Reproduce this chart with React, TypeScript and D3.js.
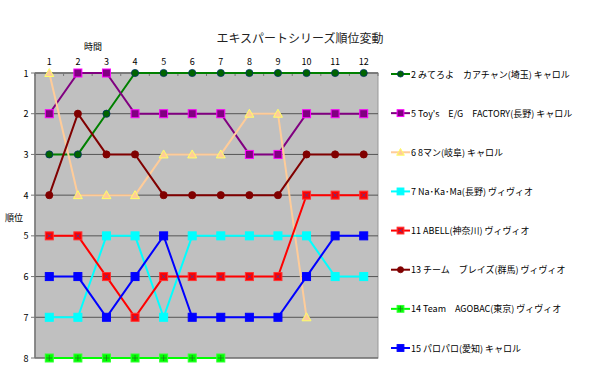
import React from "react";
import * as d3 from "d3";

const times = ["1","2","3","4","5","6","7","8","9","10","11","12"];
const ranks = [1,2,3,4,5,6,7,8];
const names = [
  "2 みてろよ　カアチャン(埼玉) キャロル",
  "5 Toy's　E/G　FACTORY(長野) キャロル",
  "6 8マン(岐阜) キャロル",
  "7 Na･Ka･Ma(長野) ヴィヴィオ",
  "11 ABELL(神奈川) ヴィヴィオ",
  "13 チーム　ブレイズ(群馬) ヴィヴィオ",
  "14 Team　AGOBAC(東京) ヴィヴィオ",
  "15 パロパロ(愛知) キャロル",
];
const s2 = [3,3,2,1,1,1,1,1,1,1,1,1];
const s5 = [2,1,1,2,2,2,2,3,3,2,2,2];
const s6 = [1,4,4,4,3,3,3,2,2,7,null,null];
const s7 = [7,7,5,5,7,5,5,5,5,5,6,6];
const s11 = [5,5,6,7,6,6,6,6,6,4,4,4];
const s13 = [4,2,3,3,4,4,4,4,4,3,3,3];
const s14 = [8,8,8,8,8,8,8,null,null,null,null,null];
const s15 = [6,6,7,6,5,7,7,7,7,6,5,5];
const seriesValues = [s2,s5,s6,s7,s11,s13,s14,s15];
const lineColors = ["#008000","#800080","#ffcc99","#00ffff","#ff0000","#800000","#00ff00","#0000ff"];
const markerFill = ["#006400","#800080","#ffcc99","#00ffff","#ff0000","#800000","#00ff00","#0000ff"];
const markerStroke = ["#003366","#ff00ff","#ffff66","#00ffff","#ff3333","#800000","#33ff33","#0000ff"];
const markerType = ["circle","square","triangle","square","squareX","circle","squarePlus","square"];

const FONT = "'MS PGothic','Noto Sans CJK JP',sans-serif";

function Marker({ type, x, y, fill, stroke, k = 1 }: any) {
  if (type === "circle") return <circle cx={x} cy={y} r={3.6 * k} fill={fill} stroke={stroke} strokeWidth={0.8} />;
  if (type === "triangle")
    return <path d={`M${x},${y - 4.5 * k}L${x + 4.5 * k},${y + 3.5 * k}L${x - 4.5 * k},${y + 3.5 * k}Z`} fill={fill} stroke={stroke} strokeWidth={1} />;
  const s = 8 * k;
  return (
    <g>
      <rect x={x - s / 2} y={y - s / 2} width={s} height={s} fill={fill} stroke={stroke} strokeWidth={1} />
      {type === "squareX" && <path d={`M${x - 2},${y - 2}L${x + 2},${y + 2}M${x + 2},${y - 2}L${x - 2},${y + 2}`} stroke="#4040a0" strokeWidth={0.8} />}
      {type === "squarePlus" && <path d={`M${x},${y - 3}L${x},${y + 3}M${x - 3},${y}L${x + 3},${y}`} stroke="#208020" strokeWidth={0.8} />}
    </g>
  );
}

export default function App() {
  const W = 600, H = 374;
  const left = 35, right = 378, top = 73, bottom = 358;
  const x = d3.scalePoint<string>().domain(times).range([left, right]).padding(0.5);
  const y = d3.scaleLinear().domain([1, 8]).range([top, bottom]);
  const line = d3.line<any>().defined((d) => d.v != null).x((d) => x(d.t)!).y((d) => y(d.v));
  const bandW = (right - left) / times.length;
  const legendY = d3.scalePoint<number>().domain(d3.range(names.length)).range([74, 348]);

  return (
    <svg width={W} height={H} style={{ position: "absolute", left: 0, top: 0, background: "#fff" }} fontFamily={FONT}>
      <text x={300} y={43} fontSize={12} textAnchor="middle" fill="#222">エキスパートシリーズ順位変動</text>
      <text x={93} y={50} fontSize={9} textAnchor="middle" fill="#000">時間</text>
      <text x={14} y={221} fontSize={9} textAnchor="middle" fill="#000">順位</text>
      <rect x={left} y={top} width={right - left} height={bottom - top} fill="#c0c0c0" stroke="#999" strokeWidth={1} />
      {ranks.map((r) => (
        <line key={r} x1={left} x2={right} y1={y(r)} y2={y(r)} stroke="#555" strokeWidth={1} />
      ))}
      <line x1={left} x2={right} y1={top} y2={top} stroke="#777" strokeWidth={1.5} />
      <line x1={left} x2={left} y1={top} y2={bottom} stroke="#777" strokeWidth={1.5} />
      {d3.range(times.length + 1).map((i) => (
        <line key={i} x1={left + i * bandW} x2={left + i * bandW} y1={top} y2={top + 3} stroke="#777" />
      ))}
      {ranks.map((r) => (
        <g key={r}>
          <line x1={left - 4} x2={left} y1={y(r)} y2={y(r)} stroke="#777" />
          <text x={26} y={y(r) + 3.5} fontSize={9} textAnchor="middle" fill="#000">{r}</text>
        </g>
      ))}
      {times.map((t) => (
        <text key={t} x={x(t)} y={65} fontSize={9} textAnchor="middle" fill="#000">{t}</text>
      ))}
      {seriesValues.map((vals, i) => {
        const data = vals.map((v, j) => ({ t: times[j], v }));
        return (
          <g key={i}>
            <path d={line(data) || ""} fill="none" stroke={lineColors[i]} strokeWidth={2} />
            {data.filter((d) => d.v != null).map((d, j) => (
              <Marker key={j} type={markerType[i]} x={x(d.t)} y={y(d.v as number)} fill={markerFill[i]} stroke={markerStroke[i]} />
            ))}
          </g>
        );
      })}
      {names.map((n, i) => {
        const ly = legendY(i)!;
        return (
          <g key={i}>
            <line x1={391} x2={410} y1={ly} y2={ly} stroke={lineColors[i]} strokeWidth={2} />
            <Marker type={markerType[i]} x={400.5} y={ly} fill={markerFill[i]} stroke={markerStroke[i]} k={0.85} />
            <text x={411} y={ly + 3.5} fontSize={9} fill="#000">{n}</text>
          </g>
        );
      })}
    </svg>
  );
}
